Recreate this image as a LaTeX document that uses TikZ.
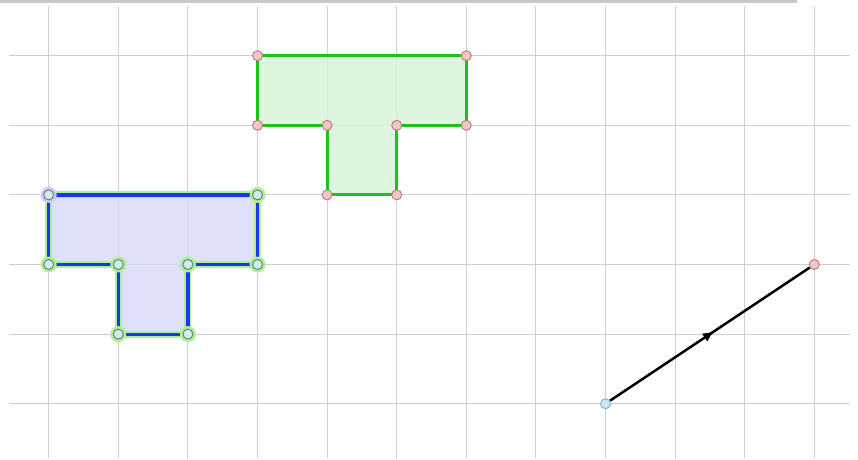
\documentclass[tikz,border=0pt]{standalone}
\usetikzlibrary{arrows.meta,decorations.markings}
\definecolor{gridc}{HTML}{D0D0D0}
\definecolor{barc}{HTML}{C8C8C8}
\definecolor{gfill}{HTML}{D8F4D8}
\definecolor{gline}{HTML}{1FC01F}
\definecolor{bfill}{HTML}{D9DBF8}
\definecolor{bline}{HTML}{1838F0}
\definecolor{glow}{HTML}{B0EE94}
\definecolor{pinkf}{HTML}{F2C6C6}
\definecolor{pinkd}{HTML}{B87878}
\definecolor{cyanf}{HTML}{D2ECEC}
\definecolor{cyand}{HTML}{557F7F}
\definecolor{bluef}{HTML}{CDE8F2}
\definecolor{blued}{HTML}{7FB0CA}
\definecolor{purp}{HTML}{D8C4F4}
\tikzset{
  gridline/.style={draw=gridc, line width=1pt},
  pinkpt/.style={circle, inner sep=0pt, minimum size=10pt, fill=pinkf, draw=pinkd, line width=0.9pt},
  cyanpt/.style={circle, inner sep=0pt, minimum size=10pt, fill=cyanf, draw=cyand, line width=0.9pt},
  halo/.style={circle, inner sep=0pt, minimum size=16pt, fill=glow},
  purphalo/.style={circle, inner sep=0pt, minimum size=16pt, fill=purp},
  startpt/.style={circle, inner sep=0pt, minimum size=10pt, fill=bluef, draw=blued, line width=0.9pt},
  vecline/.style={draw=black, line width=2.5pt,
    decoration={markings, mark=at position 0.52 with {\arrow{Latex[length=11pt,width=10pt]}}},
    postaction={decorate}},
}
\begin{document}
\begin{tikzpicture}[x=1pt,y=-1pt]
\useasboundingbox (0,0) rectangle (858,459);
% top bar
\fill[barc] (0,0) rectangle (797,2.5);
% grid
\foreach \i in {0,...,11} {
  \draw[gridline] ({48.7+69.6*\i},6) -- ({48.7+69.6*\i},458);
}
\foreach \j in {0,...,5} {
  \draw[gridline] (9,{55.7+69.6*\j}) -- (850,{55.7+69.6*\j});
}
% coordinates
\def\X#1{48.7+69.6*#1}
\def\Y#1{55.7+69.6*#1}
\coordinate (g1) at ({\X3},{\Y0});
\coordinate (g2) at ({\X6},{\Y0});
\coordinate (g3) at ({\X6},{\Y1});
\coordinate (g4) at ({\X5},{\Y1});
\coordinate (g5) at ({\X5},{\Y2});
\coordinate (g6) at ({\X4},{\Y2});
\coordinate (g7) at ({\X4},{\Y1});
\coordinate (g8) at ({\X3},{\Y1});
\coordinate (b1) at ({\X0},{\Y2});
\coordinate (b2) at ({\X3},{\Y2});
\coordinate (b3) at ({\X3},{\Y3});
\coordinate (b4) at ({\X2},{\Y3});
\coordinate (b5) at ({\X2},{\Y4});
\coordinate (b6) at ({\X1},{\Y4});
\coordinate (b7) at ({\X1},{\Y3});
\coordinate (b8) at ({\X0},{\Y3});
\coordinate (vs) at ({\X8},{\Y5});
\coordinate (ve) at ({\X11},{\Y3});
% green T
\fill[gfill, fill opacity=0.85] (g1)--(g2)--(g3)--(g4)--(g5)--(g6)--(g7)--(g8)--cycle;
\draw[gline, line width=3pt, line join=miter] (g1)--(g2)--(g3)--(g4)--(g5)--(g6)--(g7)--(g8)--cycle;
% blue T
\fill[bfill, fill opacity=0.85] (b1)--(b2)--(b3)--(b4)--(b5)--(b6)--(b7)--(b8)--cycle;
\draw[glow, line width=7pt, line join=round] (b1)--(b2)--(b3)--(b4)--(b5)--(b6)--(b7)--(b8)--cycle;
\draw[bline, line width=3.2pt, line join=miter] (b1)--(b2)--(b3)--(b4)--(b5)--(b6)--(b7)--(b8)--cycle;
% blue T points
\node[purphalo] at (b1) {};
\foreach \p in {b2,b3,b4,b5,b6,b7,b8} { \node[halo] at (\p) {}; }
\foreach \p in {b1,b2,b3,b4,b5,b6,b7,b8} { \node[cyanpt] (n\p) at (\p) {}; }
% green T points
\foreach \p in {g1,g2,g3,g4,g5,g6,g7,g8} { \node[pinkpt] (n\p) at (\p) {}; }
% vector
\node[startpt] (nvs) at (vs) {};
\node[pinkpt] (nve) at (ve) {};
\draw[vecline] (nvs) -- (nve);
\end{tikzpicture}
\end{document}
